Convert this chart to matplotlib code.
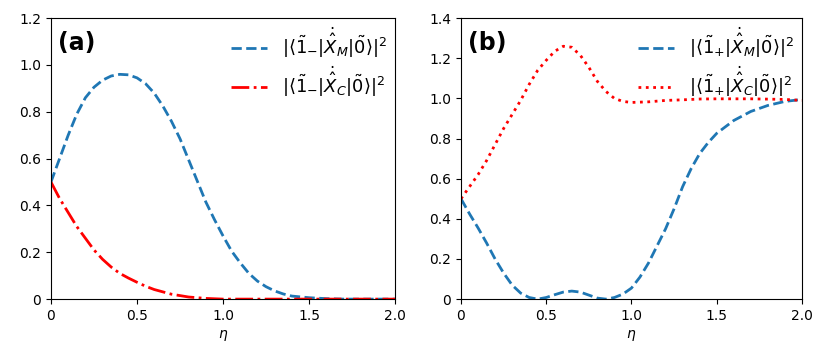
import matplotlib
matplotlib.use("Agg")
import matplotlib.pyplot as plt

# panel (a)
eta_a_m = [0, 0.05, 0.1, 0.15, 0.2, 0.25, 0.3, 0.35, 0.4, 0.45, 0.5, 0.55, 0.6, 0.65, 0.7,
           0.75, 0.8, 0.85, 0.9, 0.95, 1.0, 1.05, 1.1, 1.15, 1.2, 1.25, 1.3, 1.35, 1.4,
           1.5, 1.6, 1.7, 2.0]
xm_minus = [0.50, 0.60, 0.70, 0.79, 0.86, 0.905, 0.935, 0.953, 0.96, 0.958, 0.945, 0.92,
            0.88, 0.825, 0.76, 0.685, 0.595, 0.505, 0.415, 0.34, 0.27, 0.205, 0.155, 0.11,
            0.077, 0.053, 0.035, 0.022, 0.013, 0.006, 0.002, 0.0, 0.0]
eta_a_c = [0, 0.05, 0.1, 0.15, 0.2, 0.25, 0.3, 0.35, 0.4, 0.45, 0.5, 0.55, 0.6, 0.7, 0.8,
           0.9, 1.0, 2.0]
xc_minus = [0.50, 0.43, 0.37, 0.31, 0.26, 0.21, 0.17, 0.137, 0.11, 0.09, 0.072, 0.055,
            0.041, 0.021, 0.009, 0.003, 0.0, 0.0]

# panel (b)
eta_b_c = [0, 0.05, 0.1, 0.15, 0.2, 0.25, 0.3, 0.35, 0.4, 0.45, 0.5, 0.55, 0.6, 0.65, 0.7,
           0.75, 0.8, 0.85, 0.9, 0.95, 1.0, 1.1, 1.2, 1.3, 1.4, 1.5, 1.7, 1.9, 2.0]
xc_plus = [0.50, 0.56, 0.62, 0.69, 0.77, 0.85, 0.92, 0.99, 1.07, 1.14, 1.19, 1.235, 1.26,
           1.255, 1.215, 1.155, 1.085, 1.035, 1.0, 0.985, 0.98, 0.983, 0.99, 0.993, 0.997,
           0.998, 0.998, 0.995, 0.99]
eta_b_m = [0, 0.05, 0.1, 0.15, 0.2, 0.25, 0.3, 0.35, 0.4, 0.45, 0.5, 0.55, 0.6, 0.65, 0.7,
           0.75, 0.8, 0.85, 0.9, 0.95, 1.0, 1.05, 1.1, 1.15, 1.2, 1.25, 1.3, 1.35, 1.4,
           1.45, 1.5, 1.6, 1.7, 1.8, 1.9, 2.0]
xm_plus = [0.50, 0.425, 0.355, 0.28, 0.20, 0.13, 0.07, 0.03, 0.008, 0.0, 0.008, 0.022, 0.035,
           0.04, 0.035, 0.02, 0.005, 0.0, 0.008, 0.025, 0.055, 0.11, 0.18, 0.265, 0.35,
           0.45, 0.56, 0.65, 0.725, 0.78, 0.826, 0.89, 0.935, 0.965, 0.985, 0.995]

xticks = [0, 0.5, 1.0, 1.5, 2.0]
xtick_labels = ['0', '0.5', '1.0', '1.5', '2.0']

fig = plt.figure(figsize=(8.3, 3.63), dpi=100)
ax1 = fig.add_axes([0.0614, 0.176, 0.4146, 0.774])
ax2 = fig.add_axes([0.5554, 0.176, 0.4108, 0.774])

ax1.plot(eta_a_m, xm_minus, '--', color='#1f77b4', lw=2,
         label=r'$|\langle\tilde{1}_{-}|\dot{\hat{X}}_M|\tilde{0}\rangle|^2$')
ax1.plot(eta_a_c, xc_minus, '-.', color='red', lw=2,
         label=r'$|\langle\tilde{1}_{-}|\dot{\hat{X}}_C|\tilde{0}\rangle|^2$')
ax1.set_ylim(0, 1.2)
ax1.set_yticks([0, 0.2, 0.4, 0.6, 0.8, 1.0, 1.2])
ax1.set_yticklabels(['0', '0.2', '0.4', '0.6', '0.8', '1.0', '1.2'])

ax2.plot(eta_b_m, xm_plus, '--', color='#1f77b4', lw=2,
         label=r'$|\langle\tilde{1}_{+}|\dot{\hat{X}}_M|\tilde{0}\rangle|^2$')
ax2.plot(eta_b_c, xc_plus, ':', color='red', lw=2,
         label=r'$|\langle\tilde{1}_{+}|\dot{\hat{X}}_C|\tilde{0}\rangle|^2$')
ax2.set_ylim(0, 1.4)
ax2.set_yticks([0, 0.2, 0.4, 0.6, 0.8, 1.0, 1.2, 1.4])
ax2.set_yticklabels(['0', '0.2', '0.4', '0.6', '0.8', '1.0', '1.2', '1.4'])

for ax, tag in [(ax1, '(a)'), (ax2, '(b)')]:
    ax.set_xlim(0, 2)
    ax.set_xticks(xticks)
    ax.set_xticklabels(xtick_labels)
    ax.set_xlabel(r'$\eta$', fontsize=10)
    ax.tick_params(labelsize=10)
    ax.text(0.02, 0.91, tag, transform=ax.transAxes, fontsize=17, fontweight='bold',
            va='center')
    ax.legend(loc='upper right', frameon=False, fontsize=13, labelspacing=0.25,
              handlelength=2.0, handletextpad=0.8, borderpad=0.3, borderaxespad=0.15)

fig.savefig('out.png', dpi=100)
